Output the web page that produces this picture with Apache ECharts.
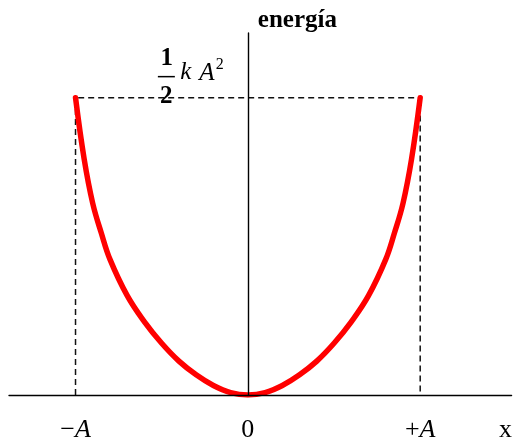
<!DOCTYPE html>
<html>
<head>
<meta charset="utf-8">
<script src="https://cdn.jsdelivr.net/npm/echarts@6/dist/echarts.min.js"></script>
<style>
  html, body { margin: 0; padding: 0; background: #fff; }
  #chart { width: 515px; height: 443px; }
</style>
</head>
<body>
<div id="chart"></div>
<script>
// Position in units of the amplitude A, energy in units of k·A²
const positions = [-1.0, -0.95, -0.9, -0.85, -0.8, -0.7, -0.6, -0.5, -0.4, -0.3, -0.2, -0.1, 0,
                   0.1, 0.2, 0.3, 0.4, 0.5, 0.6, 0.7, 0.8, 0.85, 0.9, 0.95, 1.0];
const energies  = [0.5, 0.397, 0.322, 0.272, 0.228, 0.167, 0.123, 0.087, 0.057, 0.034, 0.016, 0.004, 0,
                   0.004, 0.016, 0.034, 0.057, 0.087, 0.123, 0.167, 0.228, 0.272, 0.322, 0.397, 0.5];

// Turning points and maximum energy (½kA²)
const amplitude = 1;
const maxEnergy = 0.5;
const guidePath = [[-amplitude, 0], [-amplitude, maxEnergy], [amplitude, maxEnergy], [amplitude, 0]];

// Tick labels on the x axis
const tickValues = [-amplitude, 0, amplitude, 1.495];
const tickLabels = ['−{i|A}', '0', '+{i|A}', 'x'];

const serif = '"Liberation Serif", "DejaVu Serif", serif';

const chart = echarts.init(document.getElementById('chart'), null, { renderer: 'canvas' });

chart.setOption({
  animation: false,
  backgroundColor: '#fff',
  grid: { left: 9, right: 3, top: 33, bottom: 46, containLabel: false },
  xAxis: {
    type: 'value',
    min: -1.386,
    max: 1.53,
    z: 5,
    splitLine: { show: false },
    axisTick: { show: false },
    axisLine: { show: true, onZero: true, lineStyle: { color: '#000', width: 1.4 } },
    axisLabel: {
      customValues: tickValues,
      margin: 22,
      color: '#000',
      fontFamily: serif,
      fontSize: 26,
      formatter: function (v) {
        const i = tickValues.findIndex(t => Math.abs(t - v) < 1e-6);
        return i >= 0 ? tickLabels[i] : '';
      },
      rich: {
        i: { fontFamily: serif, fontSize: 26, fontStyle: 'italic', color: '#000' }
      }
    }
  },
  yAxis: {
    type: 'value',
    min: 0,
    max: 0.6087,
    z: 5,
    name: 'energía',
    nameLocation: 'end',
    nameGap: 0,
    nameTextStyle: {
      color: '#000',
      fontFamily: serif,
      fontSize: 25,
      fontWeight: 'bold',
      align: 'left',
      padding: [0, 0, 0, 10]
    },
    splitLine: { show: false },
    axisTick: { show: false },
    axisLabel: { show: false },
    axisLine: { show: true, onZero: true, lineStyle: { color: '#000', width: 1.4 } }
  },
  series: [
    {
      type: 'line',
      data: guidePath,
      symbol: 'none',
      silent: true,
      z: 1,
      lineStyle: { color: '#111', width: 1.5, type: [6, 4] }
    },
    {
      type: 'line',
      data: positions.map((x, i) => [x, energies[i]]),
      symbol: 'none',
      smooth: 0.4,
      silent: true,
      z: 3,
      lineStyle: { color: '#ff0000', width: 5.5, cap: 'round' }
    }
  ]
});

// ½ k A² label next to the energy level on the vertical axis
const anchor = chart.convertToPixel({ gridIndex: 0 }, [0, maxEnergy]);
const ax = anchor[0], ay = anchor[1];
function txt(text, dx, dy, font) {
  return {
    type: 'text',
    x: ax + dx,
    y: ay + dy,
    z: 10,
    silent: true,
    style: { text: text, font: font, fill: '#000', textAlign: 'center', textVerticalAlign: 'middle' }
  };
}
chart.setOption({
  graphic: [
    txt('1', -81, -39, 'bold 25px ' + serif),
    {
      type: 'line', z: 10, silent: true,
      shape: { x1: ax - 90, y1: ay - 21, x2: ax - 73, y2: ay - 21 },
      style: { stroke: '#000', lineWidth: 1.5 }
    },
    txt('2', -81.5, -1, 'bold 25px ' + serif),
    txt('k', -62, -25, 'italic 25px ' + serif),
    txt('A', -41, -24, 'italic 25px ' + serif),
    txt('2', -28, -33, '16px ' + serif)
  ]
});
</script>
</body>
</html>
